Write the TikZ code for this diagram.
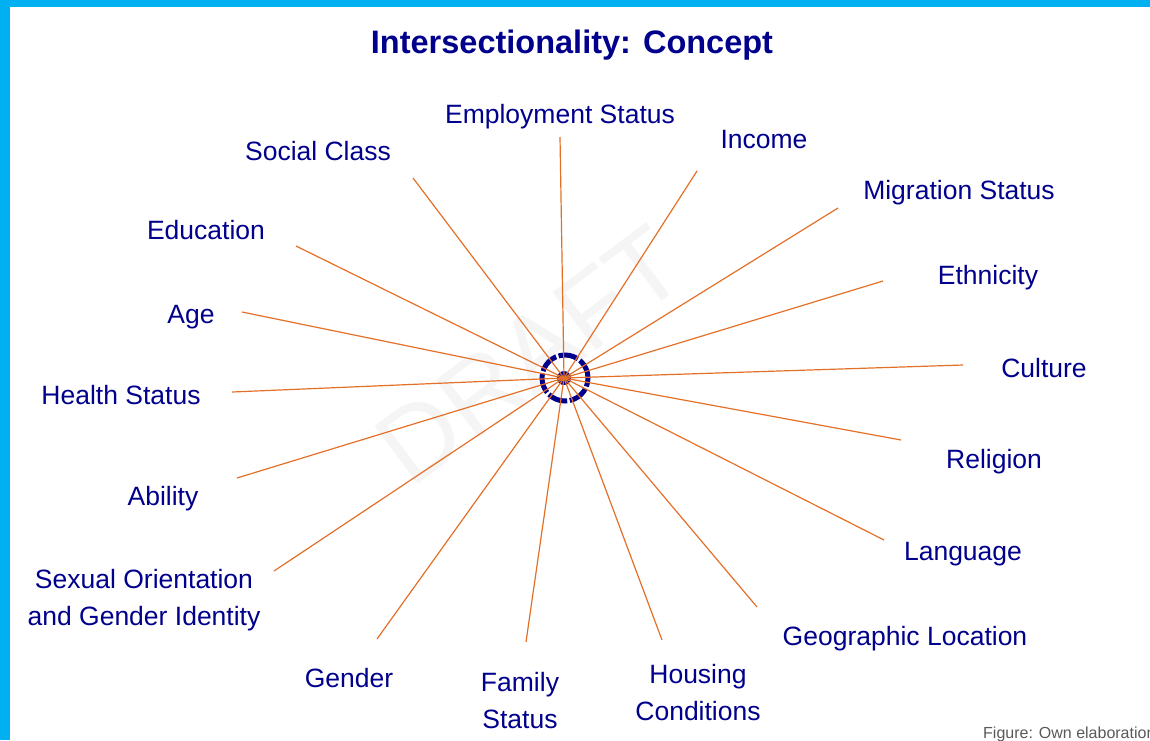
\documentclass[tikz,border=0pt]{standalone}
\usepackage{fontspec}
\setmainfont{Liberation Sans}
\usepackage{tikz}
\definecolor{navytext}{RGB}{0,0,140}
\definecolor{spoke}{RGB}{228,112,40}
\definecolor{frame}{RGB}{0,176,240}

\begin{document}
\begin{tikzpicture}[x=1pt, y=-1pt,
  factor/.style={text=navytext, font=\fontsize{26.5}{37}\selectfont,
    anchor=base, align=center, inner sep=0pt},
  %
  heading/.style={text=navytext, font=\bfseries\fontsize{32.5}{39}\selectfont,
    anchor=base, inner sep=0pt},
  %
  link/.style={draw=spoke, line width=1.2pt},
  %
  ring/.style={draw=navytext, line width=5pt, dash pattern=on 20pt off 2.6pt,
    circle, minimum size=46pt, inner sep=0pt},
  %
  credit/.style={text=black!65, font=\fontsize{16}{19}\selectfont,
    anchor=base west, inner sep=0pt},
  %
  stamp/.style={text=black!4, font=\fontsize{105}{105}\selectfont, rotate=37}
  ]

  \useasboundingbox (0,0) rectangle (1150,740);
  \fill [frame] (0,0) rectangle (10,740);
  \fill [frame] (0,0) rectangle (1150,7);

  \node [stamp] (watermark) at (530,355) {DRAFT};

  \node [heading] (title) at (572,53) {Intersectionality: Concept};

  \begin{scope}
    %%%%%%%%%%%%%%%%%%%%%%%%%%%%%%%
    \node [factor] (employment) at (560,123.3) {Employment Status};
    \node [factor] (income) at (764,148) {Income};
    \node [factor] (migration) at (959,199) {Migration Status};
    \node [factor] (ethnicity) at (988,284) {Ethnicity};
    \node [factor] (culture) at (1044,377.7) {Culture};
    \node [factor] (religion) at (994,468) {Religion};
    \node [factor] (language) at (963,560.7) {Language};
    \node [factor] (geographic) at (905,645) {Geographic Location};
    \node [factor] (housing) at (698,720) {Housing\\Conditions};
    %%%%%%%%%%%%%%%%%%%%%%%%%%%%%%%
    \node [factor] (family) at (520,728) {Family\\Status};
    \node [factor] (gender) at (349,687) {Gender};
    \node [factor] (sexual) at (144,625) {Sexual Orientation\\and Gender Identity};
    \node [factor] (ability) at (163,505.7) {Ability};
    \node [factor] (health) at (121,404) {Health Status};
    \node [factor] (age) at (191,323) {Age};
    \node [factor] (education) at (206,239) {Education};
    \node [factor] (social) at (318,160.7) {Social Class};
  \end{scope}

  % spoke ends
  \coordinate (end-employment) at (560,137);
  \coordinate (end-income) at (697,171);
  \coordinate (end-migration) at (838,208);
  \coordinate (end-ethnicity) at (883,281);
  \coordinate (end-culture) at (963,365);
  \coordinate (end-religion) at (901,440);
  \coordinate (end-language) at (884,540);
  \coordinate (end-geographic) at (757,607);
  \coordinate (end-housing) at (662,640);
  \coordinate (end-family) at (526,642);
  \coordinate (end-gender) at (377,639);
  \coordinate (end-sexual) at (274,571);
  \coordinate (end-ability) at (237,478);
  \coordinate (end-health) at (232,392);
  \coordinate (end-age) at (242,312);
  \coordinate (end-education) at (296,246);
  \coordinate (end-social) at (413,178);

  \begin{scope}
    \node [ring] (hub) at (565,378) {};
    \node [circle, fill=navytext, minimum size=14pt, inner sep=0pt] (core) at (564,378) {};
    \foreach \f in {employment, income, migration, ethnicity, culture, religion,
      language, geographic, housing, family, gender, sexual, ability, health,
      age, education, social}
      \draw [link] (core.center) -- (end-\f);
  \end{scope}

  \begin{scope}
    \clip (0,0) rectangle (1150,740);
    \node [credit] (source) at (983,738) {Figure: Own elaboration};
  \end{scope}

\end{tikzpicture}
\end{document}
